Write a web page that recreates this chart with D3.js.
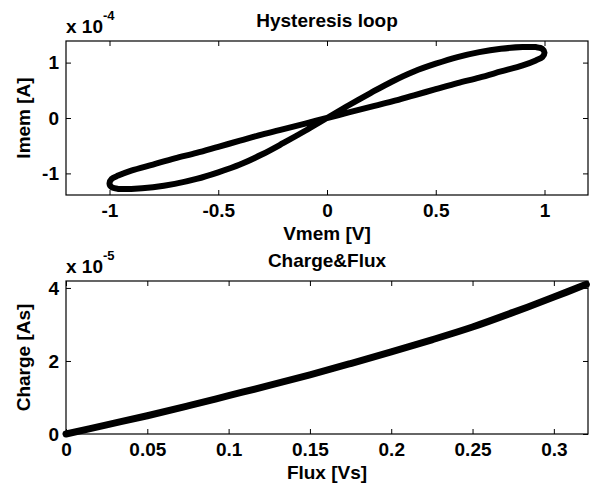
<!DOCTYPE html>
<html>
<head>
<meta charset="utf-8">
<script src="https://cdn.jsdelivr.net/npm/d3@7"></script>
<style>
  body { margin: 0; background: #fff; }
  text { font-family: "Liberation Sans", Arial, sans-serif; font-weight: bold; fill: #000; }
</style>
</head>
<body>
<div id="chart"></div>
<script>
var width = 591, height = 484;

// hysteresis loop, Imem in units of 1e-4 A
var vmemLoop = [0, 0.1, 0.2, 0.3, 0.4, 0.5, 0.6, 0.7, 0.8, 0.9, 0.96, 0.99, 1.0,
                0.99, 0.96, 0.9, 0.8, 0.7, 0.6, 0.5, 0.4, 0.3, 0.2, 0.1,
                0, -0.1, -0.2, -0.3, -0.4, -0.5, -0.6, -0.7, -0.8, -0.9, -0.96, -0.99, -1.0,
                -0.99, -0.96, -0.9, -0.8, -0.7, -0.6, -0.5, -0.4, -0.3, -0.2, -0.1];
var imemLoop = [0, 0.1, 0.2, 0.3, 0.41, 0.52, 0.63, 0.73, 0.84, 0.95, 1.04, 1.1, 1.18,
                1.25, 1.28, 1.28, 1.25, 1.19, 1.10, 0.98, 0.84, 0.66, 0.45, 0.23,
                0, -0.23, -0.45, -0.66, -0.84, -0.98, -1.10, -1.19, -1.25, -1.28, -1.28, -1.25, -1.18,
                -1.1, -1.04, -0.95, -0.84, -0.73, -0.63, -0.52, -0.41, -0.3, -0.2, -0.1];

// charge vs flux, charge in units of 1e-5 As
var flux   = [0, 0.025, 0.05, 0.075, 0.1, 0.125, 0.15, 0.175, 0.2, 0.225, 0.25, 0.275, 0.3, 0.32];
var charge = [0, 0.25, 0.5, 0.77, 1.05, 1.33, 1.62, 1.93, 2.25, 2.58, 2.93, 3.33, 3.75, 4.1];

var topXTicks = [-1, -0.5, 0, 0.5, 1];
var topYTicks = [-1, 0, 1];
var botXTicks = [0, 0.05, 0.1, 0.15, 0.2, 0.25, 0.3];
var botYTicks = [0, 2, 4];

var FONT = "19px";

var svg = d3.select("#chart").append("svg")
    .attr("width", width)
    .attr("height", height);

function panel(opts) {
  var g = svg.append("g").attr("transform", "translate(" + opts.left + "," + opts.top + ")");
  var w = opts.w, h = opts.h;
  var x = d3.scaleLinear().domain(opts.xDomain).range([0, w]);
  var y = d3.scaleLinear().domain(opts.yDomain).range([h, 0]);
  var fmt = function(d) { return String(d); };

  // tick marks inside, mirrored on all four sides
  var axB = g.append("g").attr("transform", "translate(0," + h + ")")
    .call(d3.axisBottom(x).tickValues(opts.xTicks).tickSize(-5).tickPadding(9).tickFormat(fmt));
  var axT = g.append("g")
    .call(d3.axisTop(x).tickValues(opts.xTicks).tickSize(-5).tickFormat(""));
  var axL = g.append("g")
    .call(d3.axisLeft(y).tickValues(opts.yTicks).tickSize(-5).tickPadding(7).tickFormat(fmt));
  var axR = g.append("g").attr("transform", "translate(" + w + ",0)")
    .call(d3.axisRight(y).tickValues(opts.yTicks).tickSize(-5).tickFormat(""));
  [axB, axT, axL, axR].forEach(function(a) {
    a.select(".domain").remove();
    a.selectAll(".tick line").attr("stroke", "#000").attr("stroke-width", 1);
    a.selectAll("text").style("font-size", FONT).style("font-family", "Liberation Sans, Arial, sans-serif")
      .style("font-weight", "bold").attr("fill", "#000");
  });
  axB.selectAll("text").attr("dy", "0.71em");

  g.append("path")
    .datum(opts.xs.map(function(v, i) { return [v, opts.ys[i]]; }))
    .attr("fill", "none")
    .attr("stroke", "#000")
    .attr("stroke-width", opts.lw)
    .attr("stroke-linejoin", "round")
    .attr("stroke-linecap", "round")
    .attr("d", d3.line()
      .x(function(d) { return x(d[0]); })
      .y(function(d) { return y(d[1]); })
      .curve(opts.closed ? d3.curveCatmullRomClosed : d3.curveCatmullRom));

  g.append("rect")
    .attr("x", 0).attr("y", 0).attr("width", w).attr("height", h)
    .attr("fill", "none").attr("stroke", "#000").attr("stroke-width", 1.2);

  g.append("text")
    .attr("x", w / 2).attr("y", -14)
    .attr("text-anchor", "middle")
    .style("font-size", FONT)
    .text(opts.title);

  g.append("text")
    .attr("x", w / 2).attr("y", h + 45)
    .attr("text-anchor", "middle")
    .style("font-size", FONT)
    .text(opts.xLabel);

  g.append("text")
    .attr("transform", "translate(-36," + (h / 2) + ") rotate(-90)")
    .attr("text-anchor", "middle")
    .style("font-size", FONT)
    .text(opts.yLabel);

  var ex = g.append("text").attr("x", 0).attr("y", -8).style("font-size", FONT);
  ex.append("tspan").text("x 10");
  ex.append("tspan").attr("dy", -13).style("font-size", "13px").text(opts.exponent);
}

panel({
  left: 66, top: 41, w: 522, h: 154,
  xDomain: [-1.2, 1.2], yDomain: [-1.39, 1.39],
  xTicks: topXTicks, yTicks: topYTicks,
  xs: vmemLoop, ys: imemLoop, lw: 6, closed: true,
  title: "Hysteresis loop", xLabel: "Vmem [V]", yLabel: "Imem [A]", exponent: "-4"
});

panel({
  left: 66, top: 281, w: 522, h: 153,
  xDomain: [0, 0.321], yDomain: [0, 4.19],
  xTicks: botXTicks, yTicks: botYTicks,
  xs: flux, ys: charge, lw: 7, closed: false,
  title: "Charge&Flux", xLabel: "Flux [Vs]", yLabel: "Charge [As]", exponent: "-5"
});
</script>
</body>
</html>
